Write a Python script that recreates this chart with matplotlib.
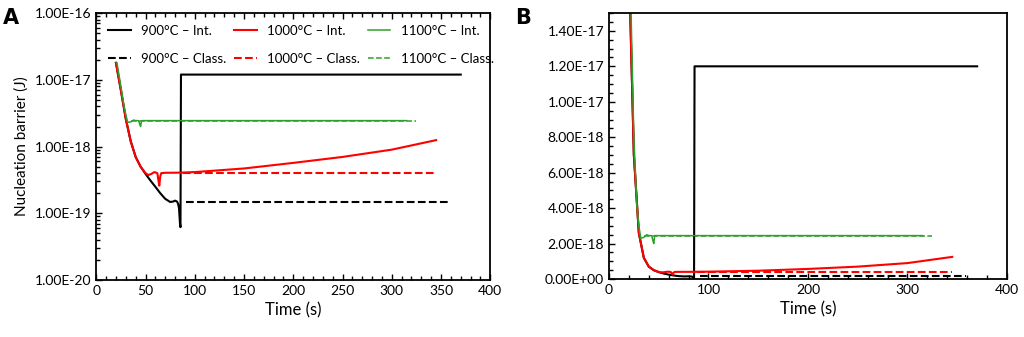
import matplotlib.pyplot as plt
import numpy as np
from matplotlib.ticker import MultipleLocator, FixedLocator, LogLocator, FormatStrFormatter, NullFormatter

plt.rcParams['font.family'] = ['Lato', 'DejaVu Sans']

# 900 C - integrated model (drop then jump)
t900 = [20, 25, 30, 35, 40, 45, 50, 55, 60, 65, 70, 75, 78, 80, 82, 83, 84, 85, 85.5, 86, 370]
g900 = [1.8e-17, 7e-18, 2.6e-18, 1.2e-18, 7e-19, 5e-19, 3.9e-19, 3.1e-19, 2.5e-19, 2.0e-19,
        1.65e-19, 1.48e-19, 1.5e-19, 1.55e-19, 1.5e-19, 1.4e-19, 1.2e-19, 7e-20, 6.2e-20, 1.2e-17, 1.2e-17]
t900c = [91, 359]
g900c = [1.5e-19, 1.5e-19]

# 1000 C
t1000 = [20, 25, 30, 35, 40, 45, 50, 53, 56, 59, 62, 63, 64, 65, 66, 70, 85, 100, 150, 200, 250, 300, 345]
g1000 = [1.8e-17, 7e-18, 2.6e-18, 1.2e-18, 7e-19, 5e-19, 4.0e-19, 3.75e-19, 3.9e-19, 4.15e-19, 4.0e-19,
         3.2e-19, 2.6e-19, 3.6e-19, 4.0e-19, 4.05e-19, 4.07e-19, 4.15e-19, 4.7e-19, 5.7e-19, 7.0e-19, 9.0e-19, 1.25e-18]
t1000c = [88, 345]
g1000c = [4.05e-19, 4.05e-19]

# 1100 C
t1100 = [21, 25, 28, 30, 32, 35, 38, 40, 43, 44, 45, 46, 50, 100, 200, 315]
g1100 = [1.8e-17, 8e-18, 4.2e-18, 3.0e-18, 2.3e-18, 2.35e-18, 2.5e-18, 2.45e-18, 2.45e-18, 2.2e-18,
         2.0e-18, 2.45e-18, 2.45e-18, 2.45e-18, 2.45e-18, 2.45e-18]
t1100c = [35, 325]
g1100c = [2.45e-18, 2.45e-18]

series = [
    (t900, g900, 'black', '-', 1.5, '900°C – Int.'),
    (t900c, g900c, 'black', '--', 1.5, '900°C – Class.'),
    (t1000, g1000, '#ff0000', '-', 1.5, '1000°C – Int.'),
    (t1000c, g1000c, '#ff0000', '--', 1.5, '1000°C – Class.'),
    (t1100, g1100, '#2ca02c', '-', 1.1, '1100°C – Int.'),
    (t1100c, g1100c, '#2ca02c', '--', 1.1, '1100°C – Class.'),
]
draw_order = [1, 3, 5, 0, 2, 4]

log_ticks = [1e-20, 1e-19, 1e-18, 1e-17, 1e-16]
lin_ticks = [0, 2e-18, 4e-18, 6e-18, 8e-18, 1e-17, 1.2e-17, 1.4e-17]

fig = plt.figure(figsize=(10.24, 3.37), dpi=100)
axA = fig.add_axes([0.094, 0.169, 0.3848, 0.792])
axB = fig.add_axes([0.5947, 0.172, 0.3887, 0.789])

for ax in (axA, axB):
    handles = {}
    for i in draw_order:
        x, y, c, ls, lw, lab = series[i]
        h, = ax.plot(x, y, color=c, linestyle=ls, lw=lw, label=lab)
        handles[i] = h
    for s in ax.spines.values():
        s.set_linewidth(1.3)
    ax.set_xlim(0, 400)
    ax.set_xlabel('Time (s)', fontsize=12)
    ax.tick_params(labelsize=10)

# panel A - log scale
axA.set_yscale('log')
axA.set_ylim(1e-20, 1e-16)
axA.yaxis.set_major_locator(FixedLocator(log_ticks))
axA.yaxis.set_minor_locator(LogLocator(base=10, subs=np.arange(2, 10), numticks=10))
axA.yaxis.set_major_formatter(FormatStrFormatter('%.2E'))
axA.yaxis.set_minor_formatter(NullFormatter())
axA.xaxis.set_major_locator(MultipleLocator(50))
axA.xaxis.set_minor_locator(MultipleLocator(10))
axA.tick_params(which='both', direction='in', top=True, right=False)
axA.tick_params(which='major', length=4, width=1)
axA.tick_params(which='minor', length=3, width=1)
axA.set_ylabel('Nucleation barrier (J)', fontsize=11)
h = [handles[i] for i in range(6)]
axA.legend(h, [s[5] for s in series], ncol=3, frameon=False, fontsize=9.5,
           loc='upper left', bbox_to_anchor=(0.0, 1.0), handlelength=1.7,
           handletextpad=0.8, columnspacing=0.6, labelspacing=1.2,
           borderaxespad=0.6, borderpad=0.3)

# panel B - linear scale
axB.set_ylim(0, 1.5e-17)
axB.yaxis.set_major_locator(FixedLocator(lin_ticks))
axB.yaxis.set_minor_locator(MultipleLocator(5e-19))
axB.yaxis.set_major_formatter(FormatStrFormatter('%.2E'))
axB.xaxis.set_major_locator(MultipleLocator(100))
axB.xaxis.set_minor_locator(MultipleLocator(20))
axB.tick_params(which='both', direction='in', top=False, right=False)
axB.tick_params(which='major', length=4, width=1)
axB.tick_params(which='minor', length=3, width=1)

fig.text(0.003, 0.975, 'A', fontsize=15, fontweight='bold', va='top', family='DejaVu Sans')
fig.text(0.503, 0.975, 'B', fontsize=15, fontweight='bold', va='top', family='DejaVu Sans')

fig.savefig('out.png', dpi=100)
